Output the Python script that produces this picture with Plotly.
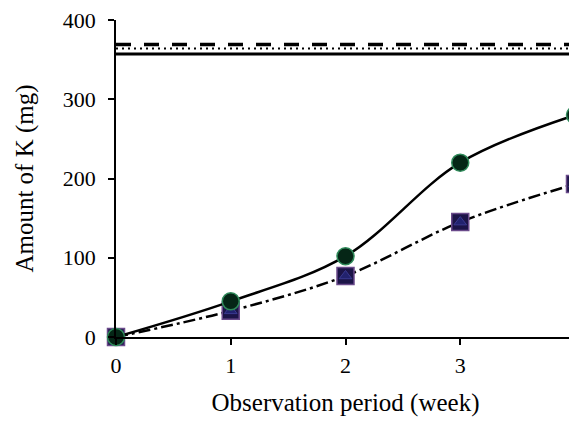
import plotly.graph_objects as go

weeks = [0, 1, 2, 3, 4]
circle_vals = [0, 45, 102, 220, 280]
square_vals = [0, 33, 77, 145, 193]
triangle_vals = [0, 33, 77, 145, 193]

ref_x = [0, 4]
ref_solid = 357
ref_dotted = 364
ref_dashed = 369

x_ticks = [0, 1, 2, 3, 4]
y_ticks = [0, 100, 200, 300, 400]

fig = go.Figure()

# reference horizontal lines
fig.add_trace(go.Scatter(x=ref_x, y=[ref_solid]*2, mode="lines",
                         line=dict(color="black", width=3), showlegend=False, hoverinfo="skip"))
fig.add_trace(go.Scatter(x=ref_x, y=[ref_dotted]*2, mode="lines",
                         line=dict(color="black", width=2, dash="2px,4px"), showlegend=False, hoverinfo="skip"))
fig.add_trace(go.Scatter(x=ref_x, y=[ref_dashed]*2, mode="lines",
                         line=dict(color="black", width=3.5, dash="15px,13px"), showlegend=False, hoverinfo="skip"))

# square series (dash-dot)
fig.add_trace(go.Scatter(x=weeks, y=square_vals, mode="lines+markers",
                         line=dict(color="black", width=2.5, dash="12px,4px,3px,4px", shape="spline", smoothing=1),
                         marker=dict(symbol="square", size=17, color="#1c1448",
                                     line=dict(color="#6a4a8a", width=1.5)),
                         cliponaxis=False, showlegend=False))
# triangle series
fig.add_trace(go.Scatter(x=weeks, y=triangle_vals, mode="markers",
                         marker=dict(symbol="triangle-up", size=11, color="#22226e",
                                     line=dict(color="#3a3a90", width=1)),
                         cliponaxis=False, showlegend=False))
# circle series (solid)
fig.add_trace(go.Scatter(x=weeks, y=circle_vals, mode="lines+markers",
                         line=dict(color="black", width=2.5, shape="spline", smoothing=1),
                         marker=dict(symbol="circle", size=17, color="#052616",
                                     line=dict(color="#2f8a5a", width=1.5)),
                         cliponaxis=False, showlegend=False))

font_family = "Liberation Serif, Times New Roman, serif"

fig.update_layout(
    width=577, height=418,
    margin=dict(l=108, r=10, t=12, b=89),
    paper_bgcolor="white", plot_bgcolor="white",
    font=dict(family=font_family, size=22, color="black"),
    showlegend=False,
)
fig.update_xaxes(range=[0, 4], tickvals=x_ticks, ticktext=[str(v) for v in x_ticks],
                 showgrid=False, zeroline=False, showline=True, linecolor="black", linewidth=1.5,
                 ticks="outside", ticklen=6, tickcolor="black", tickwidth=1.5, ticklabelstandoff=2,
                 ticklabeloverflow="allow", automargin=False,
                 title=dict(text="Observation period (week)", font=dict(size=25), standoff=16))
fig.update_yaxes(range=[0, 400], tickvals=y_ticks, ticktext=[str(v) for v in y_ticks],
                 showgrid=False, zeroline=False, showline=True, linecolor="black", linewidth=1.5,
                 ticks="outside", ticklen=6, tickcolor="black", tickwidth=1.5, ticklabelstandoff=8,
                 ticklabeloverflow="allow", automargin=False,
                 title=dict(text="Amount of K (mg)", font=dict(size=25), standoff=22))

fig.write_html("out.html")
